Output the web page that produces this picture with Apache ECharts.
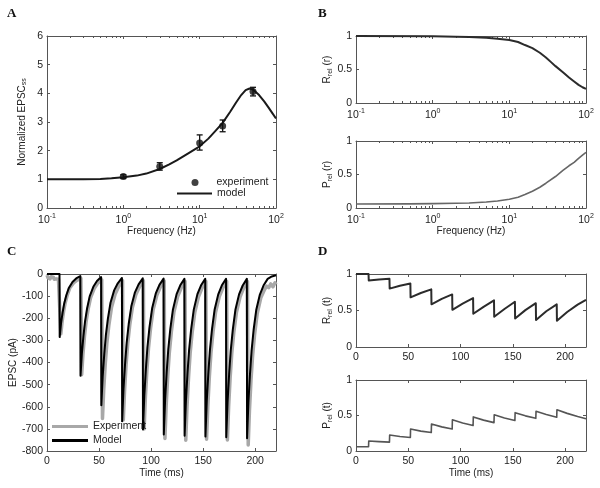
<!DOCTYPE html>
<html><head><meta charset="utf-8">
<script src="https://cdn.jsdelivr.net/npm/echarts@6/dist/echarts.min.js"></script>
<style>html,body{margin:0;padding:0;background:#fff}#c{width:600px;height:488px}</style>
</head><body><div id="c"></div><script>
// ---------- DATA ----------
// Panel A: normalized steady-state EPSC vs frequency
const aModel = [[0.1,1.0],[0.2,1.0],[0.3,1.005],[0.5,1.015],[0.7,1.035],[1,1.07],[1.5,1.13],[2,1.2],[3,1.36],[4,1.52],[5,1.66],[7,1.9],[10,2.15],[13,2.42],[16,2.68],[20,2.97],[25,3.35],[30,3.68],[35,3.94],[40,4.11],[45,4.17],[50,4.13],[60,3.94],[70,3.72],[80,3.5],[90,3.3],[100,3.12]];
const aExpFreq = [1, 3, 10, 20, 50];
const aExpMean = [1.1, 1.45, 2.27, 2.86, 4.06];
const aExpLow  = [1.03, 1.32, 2.02, 2.66, 3.91];
const aExpHigh = [1.16, 1.58, 2.55, 3.07, 4.21];
// Panel B: R_rel(r) and P_rel(r)
const bR = [[0.1,1],[1,0.997],[2,0.99],[3,0.985],[5,0.975],[7,0.96],[10,0.94],[13,0.91],[16,0.865],[20,0.82],[25,0.75],[30,0.68],[35,0.61],[40,0.55],[50,0.46],[60,0.38],[70,0.32],[80,0.27],[90,0.235],[100,0.21]];
const bP = [[0.1,0.06],[0.5,0.062],[1,0.065],[2,0.07],[3,0.075],[5,0.09],[7,0.105],[10,0.13],[13,0.16],[16,0.2],[20,0.25],[25,0.31],[30,0.37],[40,0.47],[50,0.56],[60,0.63],[70,0.68],[80,0.74],[90,0.79],[100,0.83]];
// Panel C: EPSC traces (t in ms, current in pA)
const cModel = [[0,0],[12,0],
[12.2,-285],[13.5,-222],[15,-174],[16.5,-134],[18.5,-97],[21,-63],[24.5,-36],[28,-20],[32,-9],
[32.2,-460],[33.5,-359],[35,-281],[36.5,-216],[38.5,-156],[41,-101],[44.5,-58],[48,-32],[52,-14],
[52.2,-593],[53.5,-463],[55,-362],[56.5,-279],[58.5,-202],[61,-130],[64.5,-74],[68,-42],[72,-18],
[72.2,-665],[73.5,-519],[75,-406],[76.5,-313],[78.5,-226],[81,-146],[84.5,-83],[88,-47],[92,-20],
[92.2,-703],[93.5,-548],[95,-429],[96.5,-330],[98.5,-239],[101,-155],[104.5,-88],[108,-49],[112,-21],
[112.2,-725],[113.5,-566],[115,-442],[116.5,-341],[118.5,-247],[121,-160],[124.5,-91],[128,-51],[132,-22],
[132.2,-731],[133.5,-570],[135,-446],[136.5,-344],[138.5,-249],[141,-161],[144.5,-91],[148,-51],[152,-22],
[152.2,-735],[153.5,-573],[155,-448],[156.5,-345],[158.5,-250],[161,-162],[164.5,-92],[168,-51],[172,-22],
[172.2,-738],[173.5,-576],[175,-450],[176.5,-347],[178.5,-251],[181,-162],[184.5,-92],[188,-52],[192,-22],
[192.2,-742],[193.5,-579],[195,-453],[196.5,-349],[198.5,-252],[201,-163],[204.5,-93],[208,-52],[212,-22],[216,-11],[220,-6]];
const cExp = [[0,-5],[1,-18],[2,-10],[3,-22],[4,-12],[5,-20],[6,-14],[7,-24],[8,-15],[9,-22],[10,-16],[11,-24],[12.6,-20],
[13.3,-270],[14.5,-216],[16,-167],[17.5,-130],[19.5,-95],[22,-62],[25.5,-40],[29,-28],[32.6,-20],
[33.3,-455],[34.5,-364],[36,-282],[37.5,-218],[39.5,-159],[42,-105],[45.5,-64],[49,-40],[52.6,-26],
[53.3,-653],[54.5,-522],[56,-405],[57.5,-313],[59.5,-229],[62,-150],[65.5,-90],[69,-55],[72.6,-30],
[73.3,-660],[74.5,-528],[76,-409],[77.5,-317],[79.5,-231],[82,-152],[85.5,-91],[89,-56],[92.6,-30],
[93.3,-700],[94.5,-560],[96,-434],[97.5,-336],[99.5,-245],[102,-161],[105.5,-96],[109,-58],[112.6,-32],
[113.3,-743],[114.5,-594],[116,-461],[117.5,-357],[119.5,-260],[122,-171],[125.5,-102],[129,-62],[132.6,-33],
[133.3,-751],[134.5,-601],[136,-466],[137.5,-360],[139.5,-263],[142,-173],[145.5,-103],[149,-63],[152.6,-33],
[153.3,-747],[154.5,-598],[156,-463],[157.5,-359],[159.5,-261],[162,-172],[165.5,-102],[169,-62],[172.6,-33],
[173.3,-750],[174.5,-600],[176,-465],[177.5,-360],[179.5,-263],[182,-173],[185.5,-103],[189,-63],[192.6,-34],
[193.3,-773],[194.5,-618],[196,-479],[197.5,-371],[199.5,-271],[202,-178],[205.5,-106],[209,-70],[211,-55],[213,-62],[215,-45],[217,-58],[219,-40],[220,-48]];
// Panel D: R_rel(t) and P_rel(t)
const dR = [[0,1],[12,1],[12.2,0.91],[22,0.925],[32,0.935],[32.2,0.80],[42,0.84],[52,0.87],[52.2,0.68],[62,0.74],[72,0.79],[72.2,0.585],[82,0.66],[92,0.72],[92.2,0.51],[102,0.595],[112,0.67],[112.2,0.455],[122,0.55],[132,0.64],[132.2,0.415],[142,0.52],[152,0.62],[152.2,0.39],[162,0.505],[172,0.60],[172.2,0.37],[182,0.49],[192,0.585],[192.2,0.36],[202,0.48],[212,0.58],[220,0.645]];
const dP = [[0,0.06],[12,0.06],[12.2,0.14],[22,0.132],[32,0.125],[32.2,0.225],[42,0.205],[52,0.19],[52.2,0.31],[62,0.28],[72,0.26],[72.2,0.38],[82,0.34],[92,0.31],[92.2,0.44],[102,0.395],[112,0.36],[112.2,0.48],[122,0.435],[132,0.40],[132.2,0.51],[142,0.465],[152,0.43],[152.2,0.54],[162,0.495],[172,0.46],[172.2,0.56],[182,0.515],[192,0.475],[192.2,0.58],[202,0.53],[212,0.485],[220,0.455]];
// minor tick positions for log frequency axes
const logMinorTicks = [0.2,0.3,0.4,0.5,0.6,0.7,0.8,0.9,2,3,4,5,6,7,8,9,20,30,40,50,60,70,80,90];
const panelLetters = ['A','B','C','D'];

// ---------- STYLE / LAYOUT ----------
const FONT = '"Liberation Sans", Arial, sans-serif';
const AX = '#555';
const TXT = '#222';
const grids = [
  {left:47, top:36, width:229, height:172},
  {left:356, top:36, width:230, height:67},
  {left:356, top:141, width:230, height:67},
  {left:47, top:274, width:229, height:177},
  {left:356, top:274, width:230, height:73},
  {left:356, top:380, width:230, height:71}
];
const subRich = {sub:{fontSize:7, fontFamily:FONT, color:TXT, padding:[5,0,0,0]}};
const supRich = {s:{fontSize:7, fontFamily:FONT, color:TXT, padding:[0,0,7,0]}};

function baseAxis(gi){
  return {
    gridIndex: gi,
    axisLine:{show:true, onZero:false, lineStyle:{color:AX, width:1}},
    axisTick:{show:true, inside:true, length:3, lineStyle:{color:AX}},
    splitLine:{show:false},
    axisLabel:{color:TXT, fontFamily:FONT, fontSize:10.5, margin:5},
    nameTextStyle:{color:TXT, fontFamily:FONT, fontSize:10}
  };
}
function logLabel(v){ const e = Math.round(Math.log10(v)); return '10{s|' + e + '}'; }

const xSpecs = [
  {type:'log', min:0.1, max:100, name:'Frequency (Hz)'},
  {type:'log', min:0.1, max:100, name:''},
  {type:'log', min:0.1, max:100, name:'Frequency (Hz)'},
  {type:'value', min:0, max:220, interval:50, name:'Time (ms)'},
  {type:'value', min:0, max:220, interval:50, name:''},
  {type:'value', min:0, max:220, interval:50, name:'Time (ms)'}
];
const ySpecs = [
  {min:0, max:6, interval:1, name:'Normalized EPSC{sub|ss}', gap:19},
  {min:0, max:1, interval:0.5, name:'R{sub|rel} (r)', gap:22},
  {min:0, max:1, interval:0.5, name:'P{sub|rel} (r)', gap:22},
  {min:-800, max:0, interval:100, name:'EPSC (pA)', gap:28},
  {min:0, max:1, interval:0.5, name:'R{sub|rel} (t)', gap:22},
  {min:0, max:1, interval:0.5, name:'P{sub|rel} (t)', gap:22}
];

const xAxes = [], yAxes = [];
grids.forEach((g, gi) => {
  const xs = xSpecs[gi], ys = ySpecs[gi];
  const xm = Object.assign(baseAxis(gi), {type:xs.type, min:xs.min, max:xs.max, position:'bottom',
    name:xs.name, nameLocation:'middle', nameGap:16});
  if (xs.type === 'log') {
    xm.logBase = 10;
    xm.axisLabel = Object.assign(xm.axisLabel, {formatter:logLabel, rich:supRich, showMinLabel:true, showMaxLabel:true});
  } else {
    xm.interval = xs.interval;
    xm.axisLabel = Object.assign(xm.axisLabel, {formatter:(v)=> (v % 50 === 0 ? String(v) : '')});
  }
  const xmir = Object.assign(baseAxis(gi), {type:xs.type, min:xs.min, max:xs.max, position:'top'});
  if (xs.type === 'log') xmir.logBase = 10; else xmir.interval = xs.interval;
  xmir.axisLabel = {show:false};
  xAxes.push(xm, xmir);

  const ym = Object.assign(baseAxis(gi), {type:'value', min:ys.min, max:ys.max, interval:ys.interval, position:'left',
    name:ys.name, nameLocation:'middle', nameGap:ys.gap, nameRotate:90});
  ym.nameTextStyle = Object.assign(ym.nameTextStyle, {rich:subRich});
  ym.axisLabel.margin = 4;
  const ymir = Object.assign(baseAxis(gi), {type:'value', min:ys.min, max:ys.max, interval:ys.interval, position:'right'});
  ymir.axisLabel = {show:false};
  yAxes.push(ym, ymir);
});

function minorTickRender(params, api){
  const cs = params.coordSys;
  const p = api.coord([api.value(0), api.value(1)]);
  const x = Math.round(p[0]) + 0.5;
  const b = cs.y + cs.height;
  return {type:'group', children:[
    {type:'line', shape:{x1:x, y1:b, x2:x, y2:b-2}, style:{stroke:AX, lineWidth:1}},
    {type:'line', shape:{x1:x, y1:cs.y, x2:x, y2:cs.y+2}, style:{stroke:AX, lineWidth:1}}
  ]};
}
function errRender(params, api){
  const lo = api.coord([api.value(0), api.value(1)]);
  const hi = api.coord([api.value(0), api.value(2)]);
  const x = lo[0], w = 3;
  const st = {stroke:'#111', lineWidth:1.3};
  return {type:'group', children:[
    {type:'line', shape:{x1:x, y1:lo[1], x2:x, y2:hi[1]}, style:st},
    {type:'line', shape:{x1:x-w, y1:lo[1], x2:x+w, y2:lo[1]}, style:st},
    {type:'line', shape:{x1:x-w, y1:hi[1], x2:x+w, y2:hi[1]}, style:st}
  ]};
}
function lineSeries(name, gi, data, color, width){
  return {name, type:'line', xAxisIndex:2*gi, yAxisIndex:2*gi, data, symbol:'none', showSymbol:false,
    lineStyle:{color, width, join:'round'}, itemStyle:{color}, animation:false, silent:true, z:3};
}

const series = [];
[0,1,2].forEach(gi => series.push({type:'custom', xAxisIndex:2*gi, yAxisIndex:2*gi, renderItem:minorTickRender,
  data: logMinorTicks.map(v => [v, ySpecs[gi].min]), silent:true, animation:false, z:1}));
series.push(lineSeries('model', 0, aModel, '#1a1a1a', 2));
series.push({type:'custom', xAxisIndex:0, yAxisIndex:0, renderItem:errRender,
  data: aExpFreq.map((f,i)=>[f, aExpLow[i], aExpHigh[i]]), encode:{x:0, y:[1,2]}, silent:true, animation:false, z:4});
series.push({name:'experiment', type:'scatter', xAxisIndex:0, yAxisIndex:0, data: aExpFreq.map((f,i)=>[f, aExpMean[i]]),
  symbol:'circle', symbolSize:7, itemStyle:{color:'#111'}, animation:false, silent:true, z:5});
series.push(lineSeries('Rr', 1, bR, '#2b2b2b', 2));
series.push(lineSeries('Pr', 2, bP, '#666', 1.6));
series.push(lineSeries('Experiment', 3, cExp, '#a8a8a8', 3.5));
series.push(lineSeries('Model', 3, cModel, '#000', 2));
series.push(lineSeries('Rt', 4, dR, '#2b2b2b', 2));
series.push(lineSeries('Pt', 5, dP, '#555', 1.6));

const legTxt = {color:TXT, fontFamily:FONT, fontSize:10.5};
const letterPos = [[7,17],[318,17],[7,255],[318,255]];
const option = {
  animation:false,
  backgroundColor:'#fff',
  grid: grids.map(g => Object.assign({show:false, containLabel:false}, g)),
  xAxis: xAxes,
  yAxis: yAxes,
  legend:[
    {data:[{name:'experiment', icon:'circle'}], left:191.5, top:177, padding:0, itemWidth:7, itemHeight:7,
      selectedMode:false, textStyle:Object.assign({padding:[0,0,0,13]}, legTxt)},
    {data:[{name:'model', icon:'rect'}], left:177, top:188, padding:0, itemWidth:35, itemHeight:2,
      selectedMode:false, textStyle:legTxt},
    {data:[{name:'Experiment', icon:'rect'},{name:'Model', icon:'rect'}], orient:'vertical', left:52, top:421,
      padding:0, itemWidth:36, itemHeight:3, itemGap:3, selectedMode:false, textStyle:legTxt}
  ],
  graphic: panelLetters.map((t,i)=>({type:'text', left:letterPos[i][0], top:letterPos[i][1]-10, silent:true,
    style:{text:t, font:'bold 13px "Liberation Serif", "Times New Roman", serif', fill:'#111'}})),
  series
};
const chart = echarts.init(document.getElementById('c'), null, {renderer:'canvas'});
chart.setOption(option);
</script></body></html>
